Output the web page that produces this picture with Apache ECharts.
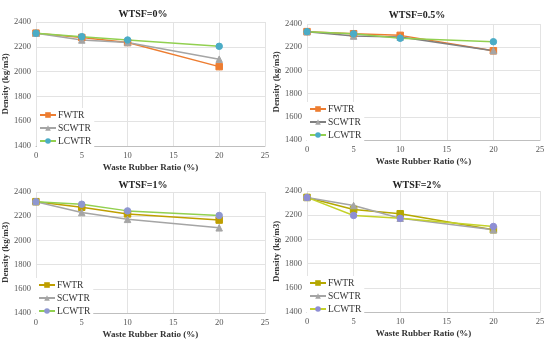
<!DOCTYPE html>
<html><head><meta charset="utf-8">
<script src="https://cdn.jsdelivr.net/npm/echarts@6/dist/echarts.min.js"></script>
<style>html,body{margin:0;padding:0;background:#fff}#c{width:550px;height:342px}</style>
</head><body><div id="c"></div>
<script>
const xValues = [0, 5, 10, 20];
const panelTitles = ['WTSF=0%', 'WTSF=0.5%', 'WTSF=1%', 'WTSF=2%'];
const seriesNames = ['FWTR', 'SCWTR', 'LCWTR'];
// values per panel
const fwtr0 = [2310, 2275, 2235, 2040];
const scwtr0 = [2310, 2255, 2235, 2100];
const lcwtr0 = [2310, 2282, 2255, 2204];
const fwtr05 = [2334, 2316, 2302, 2169];
const scwtr05 = [2334, 2296, 2287, 2170];
const lcwtr05 = [2334, 2315, 2277, 2247];
const fwtr1 = [2320, 2274, 2219, 2168];
const scwtr1 = [2320, 2230, 2174, 2104];
const lcwtr1 = [2320, 2299, 2244, 2206];
const fwtr2 = [2347, 2247, 2212, 2080];
const scwtr2 = [2347, 2280, 2175, 2079];
const lcwtr2 = [2347, 2198, 2174, 2107];
const yTicks = [1400, 1600, 1800, 2000, 2200, 2400];
const xTicks = [0, 5, 10, 15, 20, 25];

const panelData = [[fwtr0, scwtr0, lcwtr0],[fwtr05, scwtr05, lcwtr05],[fwtr1, scwtr1, lcwtr1],[fwtr2, scwtr2, lcwtr2]];
const grids = [
  {left:36, top:22, width:229, height:124},
  {left:307, top:24, width:233, height:116},
  {left:35, top:192, width:230, height:121},
  {left:307, top:191, width:233, height:121}
];
const titlePos = [[138,4],[412,5],[138,175],[412,175]];
const legendPos = [[37,108],[307,102],[36,278],[307,276]];
const lineColors = [
  ['#ED7D31','#A5A5A5','#92D050'],
  ['#ED7D31','#7F7F7F','#92D050'],
  ['#BF9F00','#A5A5A5','#92D050'],
  ['#B5A800','#A5A5A5','#C4D22A']
];
const markerColors = [
  ['#ED7D31','#A5A5A5','#4BACC6'],
  ['#ED7D31','#A5A5A5','#4BACC6'],
  ['#BF9F00','#A5A5A5','#8E97D0'],
  ['#B5A800','#A5A5A5','#8E8ED4']
];
const symbols = ['rect','triangle','circle'];
const font = '"Liberation Serif","Times New Roman",serif';

const option = {animation:false, title:[], grid:[], xAxis:[], yAxis:[], legend:[], series:[]};
for (let p=0;p<4;p++){
  const g = grids[p];
  option.grid.push({left:g.left, top:g.top, width:g.width, height:g.height, containLabel:false});
  option.title.push({text:panelTitles[p], left:titlePos[p][0], top:titlePos[p][1], textAlign:'center',
    textStyle:{fontFamily:font, fontSize:10, fontWeight:'bold', color:'#222'}});
  option.xAxis.push({type:'value', gridIndex:p, min:0, max:25, interval:5,
    name:'Waste Rubber Ratio (%)', nameLocation:'middle', nameGap:17,
    nameTextStyle:{fontFamily:font, fontSize:9, fontWeight:'bold', color:'#333'},
    axisLine:{lineStyle:{color:'#bfbfbf'}}, axisTick:{show:false},
    axisLabel:{fontFamily:font, fontSize:8.5, color:'#555', margin:5, formatter:v=>String(v)},
    splitLine:{show:true, lineStyle:{color:'#e3e3e3'}}});
  option.yAxis.push({type:'value', gridIndex:p, min:1400, max:2400, interval:200,
    name:'Density (kg/m3)', nameLocation:'middle', nameGap:24, nameRotate:90,
    nameTextStyle:{fontFamily:font, fontSize:9, fontWeight:'bold', color:'#333'},
    axisLine:{show:false}, axisTick:{show:false},
    axisLabel:{fontFamily:font, fontSize:8.5, color:'#555', margin:5, formatter:v=>String(v)},
    splitLine:{show:true, lineStyle:{color:'#e3e3e3'}}});
  const names = seriesNames.map(n=>n + '\u200B'.repeat(p));
  option.legend.push({orient:'vertical', left:legendPos[p][0], top:legendPos[p][1], data:names,
    itemGap:3, itemWidth:16, itemHeight:7, backgroundColor:'#fff', padding:[2,3,2,2],
    textStyle:{fontFamily:font, fontSize:9.5, color:'#333', padding:[0,0,0,-3]}});
  for (let s=0;s<3;s++){
    option.series.push({type:'line', name:names[s], xAxisIndex:p, yAxisIndex:p,
      data: xValues.map((x,i)=>[x, panelData[p][s][i]]),
      symbol:symbols[s], symbolSize:6.5,
      lineStyle:{color:lineColors[p][s], width:1.5},
      itemStyle:{color:markerColors[p][s], borderColor:markerColors[p][s]}});
  }
}
const chart = echarts.init(document.getElementById('c'), null, {renderer:'canvas'});
chart.setOption(option);
</script></body></html>
